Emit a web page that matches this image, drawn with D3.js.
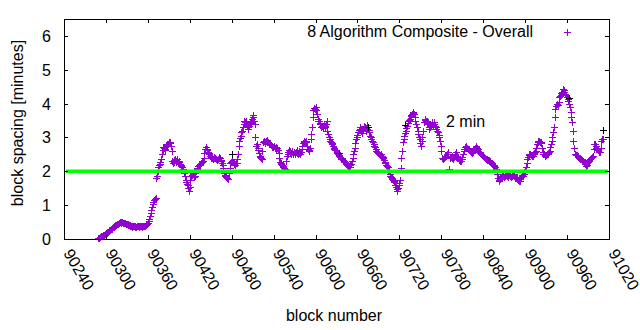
<!DOCTYPE html>
<html><head><meta charset="utf-8">
<script src="https://cdn.jsdelivr.net/npm/d3@7"></script>
<style>
html,body{margin:0;padding:0;background:#fff;}
svg text{font-family:"Liberation Sans",Arial,sans-serif;font-size:16px;fill:#000;}
</style></head><body>
<svg id="chart" width="640" height="330"></svg>
<script>
// ---- data ----
const seriesName = "8 Algorithm Composite - Overall";
const firstBlock = 90289;   // first block of the series
// values of the even-offset blocks (90289, 90291, ...)
const spacingA = [
 0.03,0.05,0.08,0.10,0.13,0.15,0.19,0.22,0.26,0.29,
 0.33,0.36,0.40,0.42,0.45,0.47,0.48,0.49,0.48,0.47,
 0.45,0.44,0.41,0.40,0.38,0.37,0.38,0.36,0.38,0.37,
 0.37,0.39,0.37,0.38,0.40,0.45,0.52,0.68,0.86,1.02,
 1.15,1.22,1.85,2.12,2.22,2.35,2.62,2.70,2.66,2.76,
 2.82,2.88,2.75,2.30,2.27,2.35,2.31,2.25,2.28,2.18,
 2.12,2.05,1.85,1.67,1.60,1.42,1.75,1.90,1.95,1.85,
 2.02,2.10,2.18,2.22,2.28,2.31,2.55,2.71,2.62,2.55,
 2.46,2.40,2.36,2.42,2.36,2.34,2.37,2.40,2.30,2.18,
 1.95,1.85,1.80,1.77,2.10,2.27,2.30,2.25,2.20,2.24,
 2.51,2.90,3.05,3.20,3.40,3.45,3.50,3.25,3.35,3.45,
 3.55,3.65,3.40,2.75,2.70,2.55,2.41,2.36,2.86,2.88,
 2.91,2.88,2.85,2.81,2.76,2.71,2.74,2.71,2.68,2.55,
 2.27,2.22,2.17,2.10,2.07,2.45,2.56,2.60,2.52,2.58,
 2.56,2.50,2.62,2.51,2.55,2.56,2.75,2.91,2.86,2.86,
 2.67,2.61,2.95,3.30,3.80,3.85,3.90,3.55,3.48,3.40,
 3.35,3.30,3.35,3.40,3.20,3.00,2.91,2.85,2.76,2.67,
 2.62,2.55,2.48,2.42,2.36,2.34,2.31,2.25,2.20,2.15,
 2.12,2.22,2.40,2.60,2.85,3.00,3.15,3.30,3.20,3.18,
 3.28,3.32,3.25,3.30,3.15,3.00,2.90,2.81,2.72,2.61,
 2.56,2.51,2.46,2.44,2.41,2.27,2.20,2.12,2.00,1.85,
 1.80,1.75,1.67,1.55,1.42,1.60,1.75,2.40,2.86,3.05,
 3.20,3.35,3.50,3.55,3.65,3.75,3.68,3.50,3.30,3.10,
 2.96,2.76,3.00,3.45,3.55,3.50,3.45,3.25,3.35,3.45,
 3.40,3.35,3.25,3.15,3.00,2.76,2.40,2.35,2.41,2.45,
 2.56,2.07,2.40,2.45,2.36,2.48,2.56,2.40,2.36,2.31,
 2.35,2.50,2.67,2.76,2.70,2.65,2.61,2.58,2.56,2.65,
 2.76,2.70,2.60,2.56,2.50,2.46,2.42,2.38,2.36,2.33,
 2.31,2.26,2.22,2.18,2.12,2.05,1.80,1.72,1.80,1.85,
 1.87,1.85,1.90,1.82,1.88,1.87,1.85,1.90,1.84,1.82,
 1.78,1.72,1.78,1.85,1.87,1.98,2.12,2.36,2.48,2.51,
 2.48,2.46,2.55,2.61,2.80,2.91,2.88,2.86,2.56,2.50,
 2.46,2.50,2.55,2.61,2.81,3.00,3.30,3.85,4.00,3.95,
 4.19,4.25,4.35,4.39,4.29,4.24,4.15,4.00,3.75,3.45,
 2.91,2.51,2.48,2.46,2.40,2.36,2.33,2.30,2.27,2.17,
 2.25,2.31,2.35,2.41,2.45,2.81,2.76,2.65,2.58,2.56,
 2.91,2.96
];
// values of the odd-offset blocks (90290, 90292, ...)
const spacingB = [
 0.04,0.07,0.09,0.12,0.14,0.17,0.21,0.24,0.28,0.31,
 0.35,0.38,0.41,0.44,0.46,0.49,0.50,0.47,0.46,0.46,
 0.43,0.42,0.39,0.39,0.36,0.39,0.35,0.37,0.39,0.36,
 0.38,0.36,0.39,0.37,0.42,0.48,0.60,0.78,0.95,1.10,
 1.18,1.80,2.00,2.18,2.28,2.50,2.72,2.64,2.78,2.80,
 2.86,2.84,2.61,2.25,2.33,2.28,2.36,2.30,2.22,2.15,
 2.08,1.95,1.75,1.62,1.50,1.55,1.87,1.92,1.82,1.95,
 2.07,2.15,2.20,2.25,2.30,2.40,2.65,2.66,2.58,2.50,
 2.43,2.38,2.40,2.38,2.35,2.36,2.41,2.34,2.25,2.10,
 1.90,1.82,1.78,1.95,2.25,2.28,2.27,2.22,2.26,2.35,
 2.75,2.98,3.15,3.30,3.48,3.40,3.35,3.30,3.42,3.50,
 3.60,3.50,3.00,2.81,2.62,2.46,2.38,2.60,2.90,2.84,
 2.93,2.86,2.83,2.78,2.73,2.76,2.70,2.66,2.62,2.40,
 2.24,2.19,2.14,2.08,2.30,2.52,2.62,2.55,2.60,2.50,
 2.53,2.58,2.54,2.60,2.52,2.65,2.85,2.88,2.90,2.75,
 2.63,2.70,3.10,3.60,3.88,3.82,3.70,3.50,3.42,3.30,
 3.28,3.38,3.32,3.50,3.10,2.95,2.88,2.80,2.70,2.64,
 2.58,2.52,2.45,2.39,2.40,2.32,2.28,2.22,2.17,2.13,
 2.18,2.30,2.50,2.70,2.95,3.08,3.22,3.25,3.12,3.22,
 3.35,3.20,3.36,3.22,3.05,2.95,2.86,2.76,2.66,2.58,
 2.53,2.48,2.50,2.38,2.32,2.24,2.15,2.05,1.92,1.82,
 1.78,1.70,1.60,1.48,1.50,1.65,2.10,2.60,2.95,3.12,
 3.28,3.42,3.52,3.62,3.70,3.72,3.60,3.40,3.20,3.02,
 2.85,2.90,3.20,3.52,3.48,3.40,3.30,3.30,3.42,3.38,
 3.45,3.30,3.20,3.08,2.90,2.61,2.36,2.38,2.44,2.52,
 2.50,2.38,2.42,2.40,2.42,2.52,2.45,2.38,2.33,2.30,
 2.42,2.60,2.72,2.74,2.66,2.63,2.60,2.55,2.60,2.70,
 2.72,2.65,2.58,2.53,2.48,2.44,2.40,2.37,2.34,2.32,
 2.28,2.24,2.20,2.15,2.08,1.92,1.75,1.76,1.83,1.88,
 1.84,1.88,1.86,1.85,1.90,1.83,1.88,1.86,1.80,1.84,
 1.75,1.70,1.82,1.88,1.92,2.05,2.25,2.42,2.50,2.47,
 2.45,2.50,2.58,2.70,2.88,2.90,2.84,2.70,2.52,2.48,
 2.48,2.52,2.58,2.72,2.90,3.15,3.60,3.92,3.98,4.05,
 4.22,4.30,4.42,4.33,4.26,4.20,4.08,3.90,3.60,3.20,
 2.70,2.50,2.47,2.43,2.38,2.35,2.31,2.28,2.22,2.20,
 2.28,2.33,2.38,2.43,2.65,2.80,2.70,2.62,2.57,2.70,
 2.94
];
// a few points drawn in black
const blackBlocks = [90480, 90634, 90675, 90728, 90963, 91011];
const blackValues = [2.52, 2.55, 3.32, 3.38, 4.18, 3.23];
const refValue = 2;
const refLabel = "2 min";
const xTicks = [90240,90300,90360,90420,90480,90540,90600,90660,90720,90780,90840,90900,90960,91020];
const yTicks = [0,1,2,3,4,5,6];
const xLabel = "block number";
const yLabel = "block spacing [minutes]";

// ---- layout ----
const L = 64, R = 609, T = 19, B = 239;
const svg = d3.select("#chart");
const x = d3.scaleLinear().domain([90240, 91020]).range([L, R]);
const y = d3.scaleLinear().domain([0, 6.5]).range([B, T]);

const pts = spacingA.map((v, i) => ({b: firstBlock + 2 * i, v}))
  .concat(spacingB.map((v, i) => ({b: firstBlock + 1 + 2 * i, v})));
const blk = blackBlocks.map((b, i) => ({b, v: blackValues[i]}));

function plus(px, py, s) {
  const cx = Math.round(px) + 0.5, cy = Math.round(py) + 0.5;
  return `M${cx - s},${cy}H${cx + s}M${cx},${cy - s}V${cy + s}`;
}

const purple = "#9400d3";
svg.append("path")
  .attr("d", pts.map(d => plus(x(d.b), y(d.v), 3.5)).join(""))
  .attr("stroke", purple).attr("stroke-width", 1).attr("fill", "none")
  .attr("shape-rendering", "crispEdges");
svg.append("path")
  .attr("d", blk.map(d => plus(x(d.b), y(d.v), 3.5)).join(""))
  .attr("stroke", "#000").attr("stroke-width", 1).attr("fill", "none")
  .attr("shape-rendering", "crispEdges");

// reference line
svg.append("line")
  .attr("x1", L + 2).attr("x2", R - 1)
  .attr("y1", y(refValue)).attr("y2", y(refValue))
  .attr("stroke", "#00ff00").attr("stroke-width", 3.5);
svg.append("text").attr("x", 446).attr("y", 127).text(refLabel);

// axes (ticks inward, mirrored)
const tk = 4;
const axB = d3.axisBottom(x).tickValues(xTicks).tickSizeInner(-tk).tickSizeOuter(0).tickFormat("");
const axT = d3.axisTop(x).tickValues(xTicks).tickSizeInner(-tk).tickSizeOuter(0).tickFormat("");
const axL = d3.axisLeft(y).tickValues(yTicks).tickSizeInner(-tk).tickSizeOuter(0).tickFormat("");
const axR = d3.axisRight(y).tickValues(yTicks).tickSizeInner(-tk).tickSizeOuter(0).tickFormat("");
[[axB, `translate(0,${B})`], [axT, `translate(0,${T})`], [axL, `translate(${L},0)`], [axR, `translate(${R},0)`]]
  .forEach(([a, t]) => {
    const g = svg.append("g").attr("transform", t).call(a);
    g.select(".domain").remove();
    g.selectAll("line").attr("stroke", "#000").attr("shape-rendering", "crispEdges");
  });
svg.append("rect").attr("x", L + 0.5).attr("y", T + 0.5).attr("width", R - L).attr("height", B - T)
  .attr("fill", "none").attr("stroke", "#000").attr("stroke-width", 1).attr("shape-rendering", "crispEdges");

// tick labels
svg.selectAll(".ylab").data(yTicks).enter().append("text")
  .attr("x", 51).attr("y", d => y(d) + 6).attr("text-anchor", "end").text(d => d);
svg.selectAll(".xlab").data(xTicks).enter().append("text")
  .attr("transform", d => `translate(${x(d) - 1},${B + 14}) rotate(60)`)
  .attr("text-anchor", "start").text(d => d);

// axis titles
svg.append("text").attr("x", 334).attr("y", 321).attr("text-anchor", "middle").text(xLabel);
svg.append("text").attr("transform", `translate(23,${(T + B) / 2 - 6}) rotate(-90)`)
  .attr("text-anchor", "middle").text(yLabel);

// legend
svg.append("text").attr("x", 533).attr("y", 37).attr("text-anchor", "end").text(seriesName);
svg.append("path").attr("d", plus(567, 32, 3.5)).attr("stroke", purple).attr("fill", "none")
  .attr("shape-rendering", "crispEdges");
</script>
</body></html>
